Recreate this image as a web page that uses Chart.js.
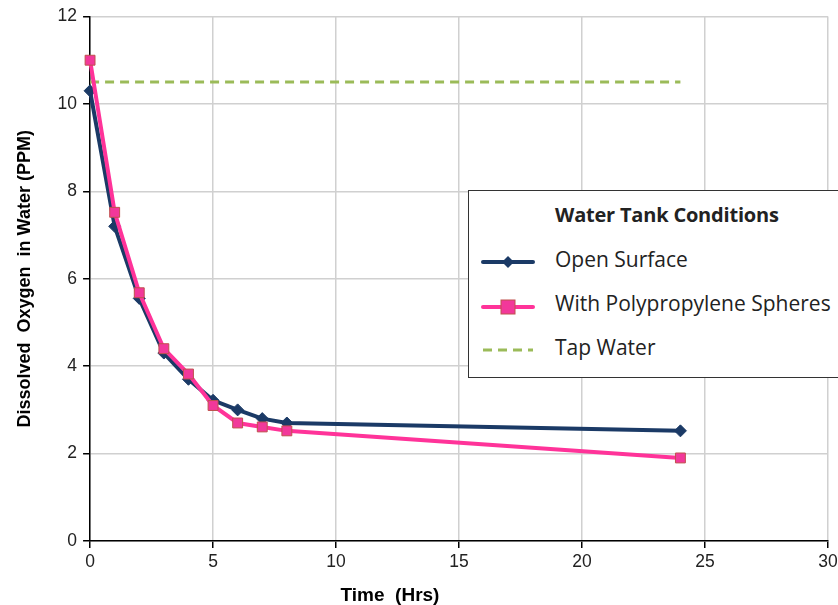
<!DOCTYPE html>
<html>
<head>
<meta charset="utf-8">
<script src="https://cdn.jsdelivr.net/npm/chart.js@4.4.1/dist/chart.umd.min.js"></script>
<style>
html,body{margin:0;padding:0;background:#fff;overflow:hidden;}
#wrap{position:relative;width:838px;height:605px;}
#legend{position:absolute;left:468px;top:190px;width:390px;height:188px;border:1.5px solid #333;background:#fff;box-sizing:border-box;font-family:"Open Sans","Noto Sans",sans-serif;color:#222;}
#legend .title{position:absolute;left:86px;top:10px;font-weight:bold;font-size:20px;letter-spacing:-0.2px;}
#legend .item{position:absolute;left:86px;font-size:21px;}
#legend svg{position:absolute;left:12px;}
#xtitle{position:absolute;left:290px;width:200px;top:585px;text-align:center;font-family:"Liberation Sans",Arial,sans-serif;font-weight:bold;font-size:19px;color:#000;line-height:20px;white-space:pre;}
</style>
</head>
<body>
<div id="wrap">
<canvas id="c" width="838" height="605"></canvas>
<div id="xtitle">Time  (Hrs)</div>
<div id="legend">
  <div class="title">Water Tank Conditions</div>
  <svg style="top:62px" width="54" height="18"><line x1="2" y1="9" x2="52" y2="9" stroke="#1b3a66" stroke-width="4" stroke-linecap="round"/><polygon points="27,3 33,9 27,15 21,9" fill="#1b3a66"/></svg>
  <div class="item" style="top:54px">Open Surface</div>
  <svg style="top:106px" width="54" height="20"><line x1="2" y1="10" x2="52" y2="10" stroke="#ff3399" stroke-width="4" stroke-linecap="round"/><rect x="20" y="3" width="14" height="14" fill="#f2389a" stroke="#c0504d" stroke-width="1"/></svg>
  <div class="item" style="top:98px">With Polypropylene Spheres</div>
  <svg style="top:150px" width="54" height="18"><line x1="2" y1="9" x2="52" y2="9" stroke="#9bbb59" stroke-width="3" stroke-dasharray="9,6"/></svg>
  <div class="item" style="top:142px">Tap Water</div>
</div>
</div>
<script>
const timeHrs = [0, 1, 2, 3, 4, 5, 6, 7, 8, 24];
const openSurface = [10.3, 7.2, 5.55, 4.3, 3.7, 3.22, 3.0, 2.8, 2.7, 2.52];
const polySpheres = [11.0, 7.52, 5.68, 4.4, 3.82, 3.1, 2.7, 2.61, 2.52, 1.9];
const tapWaterX = [0, 24];
const tapWaterY = [10.5, 10.5];
const xTicks = [0, 5, 10, 15, 20, 25, 30];
const yTicks = [0, 2, 4, 6, 8, 10, 12];

const toPts = (xs, ys) => xs.map((x, i) => ({x: x, y: ys[i]}));

new Chart(document.getElementById('c'), {
  type: 'scatter',
  data: {
    datasets: [
      {
        label: 'With Polypropylene Spheres',
        data: toPts(timeHrs, polySpheres),
        showLine: true,
        clip: false,
        borderColor: '#ff3399',
        borderWidth: 4,
        pointStyle: 'rect',
        pointRadius: 7,
        pointBackgroundColor: '#f2389a',
        pointBorderColor: '#c0504d',
        pointBorderWidth: 1,
        order: 1
      },
      {
        label: 'Open Surface',
        data: toPts(timeHrs, openSurface),
        showLine: true,
        clip: false,
        borderColor: '#1b3a66',
        borderWidth: 4,
        pointStyle: 'rectRot',
        pointRadius: 6,
        pointBackgroundColor: '#1b3a66',
        pointBorderColor: '#1b3a66',
        pointBorderWidth: 1,
        order: 2
      },
      {
        label: 'Tap Water',
        data: toPts(tapWaterX, tapWaterY),
        showLine: true,
        borderColor: '#9bbb59',
        borderWidth: 3,
        borderDash: [9, 6],
        pointRadius: 0,
        order: 3
      }
    ]
  },
  options: {
    responsive: false,
    animation: false,
    layout: {padding: {top: 10, right: 10, left: 14, bottom: 28}},
    plugins: {legend: {display: false}, tooltip: {enabled: false}},
    scales: {
      x: {
        type: 'linear',
        min: 0, max: 30,
        afterBuildTicks: (ax) => { ax.ticks = xTicks.map(v => ({value: v})); },
        afterFit: (s) => { s.paddingRight = 0; },
        ticks: {color: '#222', font: {family: 'Liberation Sans, Arial', size: 17.5}, padding: 4, maxRotation: 0},
        grid: {color: '#d0d0d0', lineWidth: 1.5, tickColor: '#000', tickLength: 7},
        border: {color: '#000', width: 1.5},
        title: {display: false}
      },
      y: {
        type: 'linear',
        min: 0, max: 12,
        afterBuildTicks: (ax) => { ax.ticks = yTicks.map(v => ({value: v})); },
        ticks: {color: '#222', font: {family: 'Liberation Sans, Arial', size: 17.5}, padding: 6},
        grid: {color: '#d0d0d0', lineWidth: 1.5, tickColor: '#000', tickLength: 7},
        border: {color: '#000', width: 1.5},
        title: {display: true, text: 'Dissolved  Oxygen  in Water (PPM)', color: '#000', font: {family: 'Liberation Sans, Arial', size: 18, weight: 'bold'}, padding: {top: 0, bottom: 16}}
      }
    }
  }
});
</script>
</body>
</html>
